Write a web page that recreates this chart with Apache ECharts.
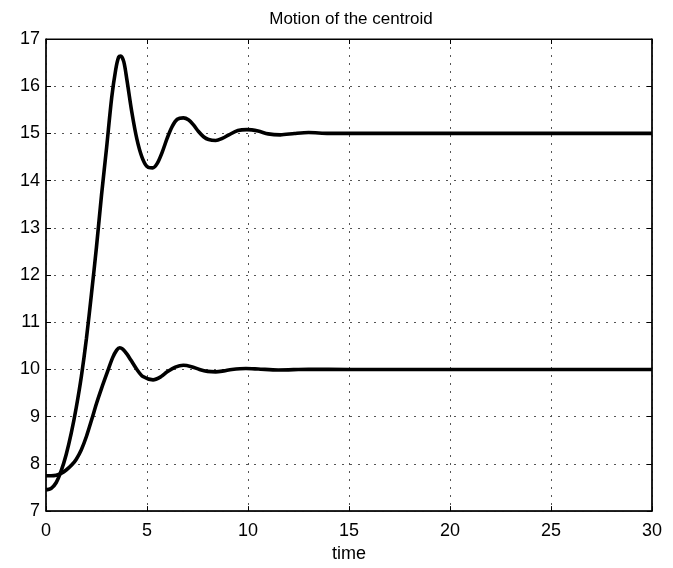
<!DOCTYPE html>
<html>
<head>
<meta charset="utf-8">
<script src="https://cdn.jsdelivr.net/npm/echarts@6/dist/echarts.min.js"></script>
<style>
html,body{margin:0;padding:0;background:#fff;}
#chart{width:673px;height:568px;}
</style>
</head>
<body>
<div id="chart"></div>
<script>
// Upper curve (settles at 15)
const timeA  = [0, 0.25, 0.5, 0.75, 1.0, 1.25, 1.5, 1.75, 2.0, 2.25, 2.5, 2.75, 3.0, 3.25, 3.45, 3.6, 3.7, 3.85, 4.0, 4.25, 4.5, 4.75, 5.0, 5.28, 5.5, 5.75, 6.0, 6.25, 6.5, 6.8, 7.05, 7.3, 7.55, 7.8, 8.05, 8.4, 8.75, 9.05, 9.5, 9.95, 10.5, 11.0, 11.6, 12.3, 13.0, 14.0, 15.0, 20.0, 25.0, 30.0];
const valueA = [7.45, 7.48, 7.6, 7.85, 8.2, 8.65, 9.2, 9.85, 10.65, 11.6, 12.6, 13.7, 14.7, 15.75, 16.35, 16.62, 16.64, 16.52, 16.15, 15.45, 14.88, 14.5, 14.3, 14.27, 14.36, 14.6, 14.9, 15.15, 15.3, 15.33, 15.29, 15.18, 15.04, 14.93, 14.87, 14.85, 14.9, 14.97, 15.06, 15.08, 15.05, 14.99, 14.97, 15.0, 15.02, 15.0, 15.0, 15.0, 15.0, 15.0];

// Lower curve (settles at 10)
const timeB  = [0, 0.25, 0.5, 0.75, 1.0, 1.28, 1.5, 1.75, 2.0, 2.27, 2.5, 2.75, 3.0, 3.3, 3.5, 3.65, 3.8, 4.0, 4.2, 4.5, 4.8, 5.3, 5.7, 6.0, 6.4, 6.8, 7.2, 7.6, 8.0, 8.4, 8.8, 9.2, 9.9, 10.5, 11.5, 13.0, 15.0, 20.0, 25.0, 30.0];
const valueB = [7.75, 7.75, 7.76, 7.8, 7.87, 7.98, 8.1, 8.3, 8.58, 8.95, 9.28, 9.6, 9.9, 10.25, 10.41, 10.46, 10.43, 10.33, 10.2, 10.0, 9.85, 9.78, 9.85, 9.95, 10.05, 10.09, 10.06, 10.0, 9.96, 9.95, 9.97, 10.0, 10.02, 10.01, 9.99, 10.005, 10.0, 10.0, 10.0, 10.0];

const xTicks = [0, 5, 10, 15, 20, 25, 30];
const yTicks = [7, 8, 9, 10, 11, 12, 13, 14, 15, 16, 17];

const titleText = 'Motion of the centroid';
const xName = 'time';

const pairs = (t, v) => t.map((x, i) => [x, v[i]]);

const font = '"Liberation Sans", Arial, Helvetica, sans-serif';
const gridLine = {show: true, lineStyle: {color: '#555', width: 1, type: [2, 6]}};

const chart = echarts.init(document.getElementById('chart'), null, {renderer: 'canvas'});
chart.setOption({
  animation: false,
  backgroundColor: '#fff',
  title: {
    text: titleText, left: 351, top: 11, textAlign: 'center', padding: 0,
    textStyle: {fontFamily: font, fontSize: 17, fontWeight: 'normal', color: '#000'}
  },
  grid: {left: 46, right: 21, top: 39, bottom: 51, show: true, borderColor: '#000', borderWidth: 1, backgroundColor: '#fff'},
  xAxis: [{
    type: 'value', min: xTicks[0], max: xTicks[xTicks.length - 1], interval: 5,
    name: xName, nameLocation: 'middle', nameGap: 32,
    nameTextStyle: {fontFamily: font, fontSize: 18, color: '#000'},
    axisLine: {show: true, onZero: false, lineStyle: {color: '#000', width: 1.5}},
    axisTick: {show: true, inside: true, length: 5, lineStyle: {color: '#000'}},
    axisLabel: {fontFamily: font, fontSize: 18, color: '#000', margin: 11},
    splitLine: gridLine
  }, {
    type: 'value', position: 'top', min: xTicks[0], max: xTicks[xTicks.length - 1], interval: 5,
    axisLine: {show: true, onZero: false, lineStyle: {color: '#000', width: 1}},
    axisTick: {show: true, inside: true, length: 5, lineStyle: {color: '#000'}},
    axisLabel: {show: false}, splitLine: {show: false}
  }],
  yAxis: [{
    type: 'value', min: yTicks[0], max: yTicks[yTicks.length - 1], interval: 1,
    axisLine: {show: true, onZero: false, lineStyle: {color: '#000', width: 1.5}},
    axisTick: {show: true, inside: true, length: 5, lineStyle: {color: '#000'}},
    axisLabel: {fontFamily: font, fontSize: 18, color: '#000', margin: 6},
    splitLine: gridLine
  }, {
    type: 'value', position: 'right', min: yTicks[0], max: yTicks[yTicks.length - 1], interval: 1,
    axisLine: {show: true, onZero: false, lineStyle: {color: '#000', width: 1.5}},
    axisTick: {show: true, inside: true, length: 5, lineStyle: {color: '#000'}},
    axisLabel: {show: false}, splitLine: {show: false}
  }],
  series: [{
    type: 'line', data: pairs(timeA, valueA), showSymbol: false, smooth: 0.3,
    lineStyle: {color: '#000', width: 3.6}, z: 5
  }, {
    type: 'line', data: pairs(timeB, valueB), showSymbol: false, smooth: 0.3,
    lineStyle: {color: '#000', width: 3.6}, z: 5
  }]
});
</script>
</body>
</html>
